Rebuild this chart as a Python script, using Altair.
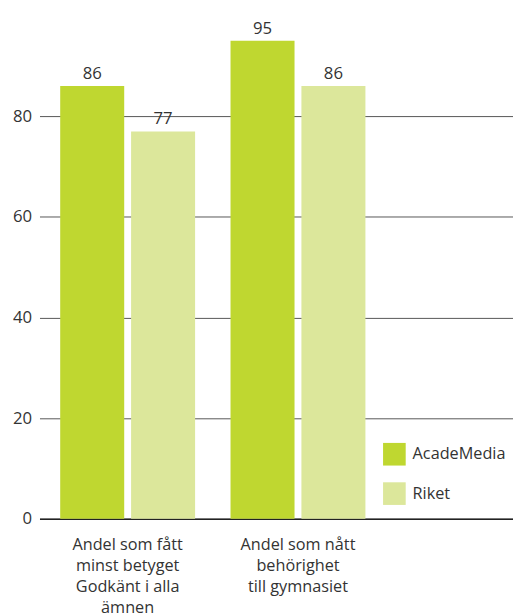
import altair as alt
import pandas as pd

categories = [
    "Andel som fått\nminst betyget\nGodkänt i alla\nämnen",
    "Andel som nått\nbehörighet\ntill gymnasiet",
]
series = ["AcadeMedia", "Riket"]
academedia = [86, 95]
riket = [77, 86]
colors = ["#BFD730", "#DCE79B"]
y_ticks = [0, 20, 40, 60, 80]

rows = []
for i, c in enumerate(categories):
    rows.append({"cat": c, "serie": series[0], "value": academedia[i]})
    rows.append({"cat": c, "serie": series[1], "value": riket[i]})
df = pd.DataFrame(rows)

FONT = "Open Sans"
TXT = "#333333"

x = alt.X(
    "cat:N",
    sort=categories,
    scale=alt.Scale(paddingInner=0.208, paddingOuter=0.494, align=0.123),
    axis=alt.Axis(
        title=None,
        labelAngle=0,
        ticks=False,
        domain=True,
        domainColor="#222222",
        domainWidth=1.5,
        labelExpr="split(datum.label, '\\n')",
        labelFont=FONT,
        labelFontSize=16.5,
        labelColor=TXT,
        labelLineHeight=21.5,
        labelPadding=18,
        labelBaseline="top",
    ),
)
xo = alt.XOffset("serie:N", sort=series, scale=alt.Scale(paddingInner=0.097, paddingOuter=0))
y = alt.Y(
    "value:Q",
    scale=alt.Scale(domain=[0, 100], nice=False),
    axis=alt.Axis(
        title=None,
        values=y_ticks,
        grid=True,
        gridColor="#555555",
        gridWidth=1,
        domain=False,
        ticks=False,
        labelFont=FONT,
        labelFontSize=17,
        labelColor=TXT,
        labelPadding=8,
    ),
)
color = alt.Color(
    "serie:N",
    sort=series,
    scale=alt.Scale(domain=series, range=colors),
    legend=alt.Legend(
        title=None,
        orient="none",
        legendX=349,
        legendY=434,
        symbolType="square",
        symbolSize=529,
        symbolStrokeWidth=0,
        symbolOpacity=1,
        labelFont=FONT,
        labelFontSize=16.5,
        labelColor=TXT,
        labelOffset=7,
        rowPadding=17,
    ),
)

base = alt.Chart(df).encode(x=x, xOffset=xo, y=y)
bars = base.mark_bar(opacity=1).encode(color=color)
labels = base.mark_text(baseline="alphabetic", dy=-7, font=FONT, fontSize=17, color=TXT).encode(
    text=alt.Text("value:Q")
)

chart = (
    alt.layer(bars, labels)
    .properties(
        width=481,
        height=511,
        autosize=alt.AutoSizeParams(type="none"),
        padding={"left": 32, "top": 3, "right": 0, "bottom": 93},
    )
    .configure_view(stroke=None)
)
chart.save("out.html", embed_options={"renderer": "svg", "actions": False})
